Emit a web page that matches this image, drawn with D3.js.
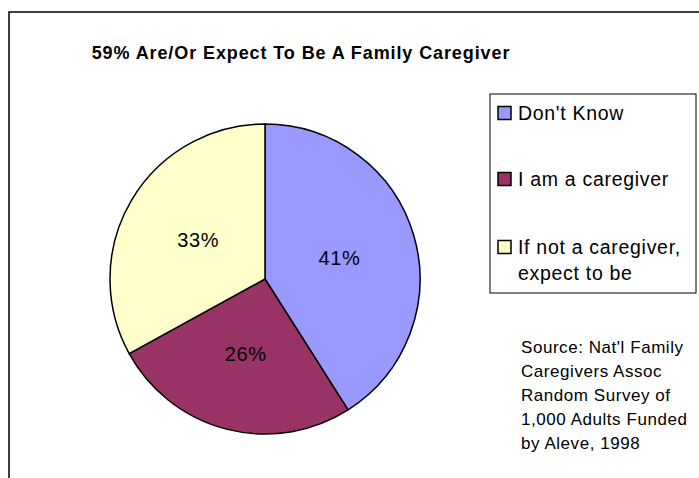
<!DOCTYPE html>
<html><head><meta charset="utf-8">
<script src="https://cdn.jsdelivr.net/npm/d3@7"></script>
<style>body{margin:0;background:#fff}svg{display:block}text{font-family:"Liberation Sans",Arial,sans-serif}</style>
</head><body>
<script>
const categories = ["Don't Know", "I am a caregiver", "If not a caregiver, expect to be"];
const values = [41, 26, 33];
const colors = ["#9999FF", "#993366", "#FFFFCC"];
const legendLines = [["Don't Know"], ["I am a caregiver"], ["If not a caregiver,", "expect to be"]];
const sourceLines = ["Source:  Nat'l Family", "Caregivers Assoc", "Random Survey of", "1,000 Adults Funded", "by Aleve, 1998"];
const title = "59% Are/Or Expect To Be A Family Caregiver";

const W = 699, H = 478;
const svg = d3.select("body").append("svg").attr("width", W).attr("height", H);

// chart frame (extends beyond right/bottom)
svg.append("rect").attr("x", 9).attr("y", 12).attr("width", 720).attr("height", 500)
  .attr("fill", "none").attr("stroke", "#000").attr("stroke-width", 1.5);

svg.append("text").attr("x", 301).attr("y", 59).attr("text-anchor", "middle")
  .attr("font-size", 18).attr("font-weight", "bold").attr("letter-spacing", 0.9).text(title);

const cx = 265, cy = 279, R = 155;
const pie = d3.pie().sort(null).value(d => d)(values);
const arc = d3.arc().innerRadius(0).outerRadius(R);
const g = svg.append("g").attr("transform", `translate(${cx},${cy})`);
g.selectAll("path").data(pie).join("path")
  .attr("d", arc).attr("fill", (d, i) => colors[i])
  .attr("stroke", "#000").attr("stroke-width", 1.5).attr("stroke-linejoin", "round");

const labelArc = d3.arc().innerRadius(R * 0.5).outerRadius(R * 0.5);
g.selectAll("text.lbl").data(pie).join("text").attr("class", "lbl")
  .attr("transform", d => { const [x, y] = labelArc.centroid(d); return `translate(${x},${y})`; })
  .attr("text-anchor", "middle").attr("dy", "0.36em").attr("font-size", 20).attr("letter-spacing", 0.6)
  .text(d => d.data + "%");

// legend
svg.append("rect").attr("x", 490).attr("y", 94).attr("width", 206).attr("height", 199)
  .attr("fill", "#fff").attr("stroke", "#000").attr("stroke-width", 1);
const ly = [113, 179, 247];
legendLines.forEach((lines, i) => {
  svg.append("rect").attr("x", 498).attr("y", ly[i] - 6.5).attr("width", 13).attr("height", 13)
    .attr("fill", colors[i]).attr("stroke", "#000").attr("stroke-width", 1.5);
  lines.forEach((t, j) => {
    svg.append("text").attr("x", 518).attr("y", ly[i] + j * 26).attr("dy", "0.36em")
      .attr("font-size", 19.5).attr("letter-spacing", 0.7).text(t);
  });
});

sourceLines.forEach((t, j) => {
  svg.append("text").attr("x", 521).attr("y", 347 + j * 24).attr("dy", "0.36em")
    .attr("font-size", 17).attr("letter-spacing", 0.55).text(t);
});
</script>
</body></html>
